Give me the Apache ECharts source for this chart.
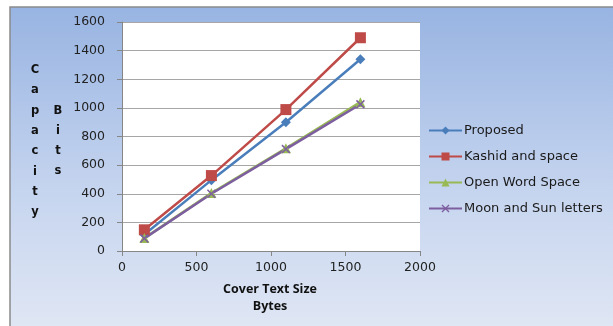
<!DOCTYPE html>
<html><head><meta charset="utf-8">
<script src="https://cdn.jsdelivr.net/npm/echarts@6/dist/echarts.min.js"></script>
<style>
html,body{margin:0;padding:0;background:#fff;}
#chart{width:613px;height:326px;}
</style></head>
<body>
<div id="chart"></div>
<script>
const xValues = [150, 600, 1100, 1600];
const proposed = [115, 495, 900, 1340];
const kashid = [148, 527, 988, 1490];
const openWord = [90, 405, 718, 1040];
const moonSun = [88, 400, 712, 1025];
const seriesNames = ['Proposed', 'Kashid and space', 'Open Word Space', 'Moon and Sun letters'];
const xTicks = {min: 0, max: 2000, interval: 500};
const yTicks = {min: 0, max: 1600, interval: 200};

const plot = {left: 122, top: 22, width: 298, height: 229};
const box = {x: 10, y: 7, w: 640, h: 340};
const chart = echarts.init(document.getElementById('chart'), null, {renderer: 'canvas'});
const pair = arr => xValues.map((x, i) => [x, arr[i]]);
const xMark = 'path://M0,1.2 L1.2,0 L5,3.8 L8.8,0 L10,1.2 L6.2,5 L10,8.8 L8.8,10 L5,6.2 L1.2,10 L0,8.8 L3.8,5 Z';
const font = '"DejaVu Sans", sans-serif';
const titleFont = '"Open Sans", sans-serif';
const grad = () => ({type: 'linear', global: true, x: 0, y: box.y, x2: 0, y2: box.y + box.h, colorStops: [
  {offset: 0, color: '#98b4e2'}, {offset: 0.55, color: '#c6d5ef'}, {offset: 1, color: '#e3e9f5'}]});
const pr = plot.left + plot.width, pb = plot.top + plot.height;
const strips = [
  [box.x, box.y, box.w, plot.top - box.y],
  [box.x, pb, box.w, box.y + box.h - pb],
  [box.x, plot.top, plot.left - box.x, plot.height],
  [pr, plot.top, box.x + box.w - pr, plot.height]
].map(s => ({type: 'rect', silent: true, shape: {x: s[0], y: s[1], width: s[2], height: s[3]}, style: {fill: grad(), stroke: null}}));
const mk = (name, data, color, symbol, size) => ({
  name, type: 'line', data: pair(data), symbol, symbolSize: size, z: 6,
  lineStyle: {color, width: 2.5}, itemStyle: {color}, color,
  emphasis: {disabled: true}
});
chart.setOption({
  animation: false,
  backgroundColor: '#ffffff',
  textStyle: {fontFamily: font},
  grid: {left: plot.left, top: plot.top, width: plot.width, height: plot.height, show: false},
  legend: {
    orient: 'vertical', left: 423, top: 119, itemGap: 13, itemWidth: 33, itemHeight: 10, z: 6,
    textStyle: {fontFamily: font, fontSize: 13, color: '#1a1a1a', padding: [0, 0, 0, -3]},
    data: seriesNames
  },
  xAxis: {
    type: 'value', z: 4, min: xTicks.min, max: xTicks.max, interval: xTicks.interval,
    axisLine: {show: true, lineStyle: {color: '#868686', width: 1}},
    axisTick: {show: true, length: 5, lineStyle: {color: '#868686'}},
    axisLabel: {fontFamily: font, fontSize: 12.5, color: '#222', margin: 10, formatter: v => String(v)},
    splitLine: {show: false}
  },
  yAxis: {
    type: 'value', z: 4, min: yTicks.min, max: yTicks.max, interval: yTicks.interval,
    axisLine: {show: true, lineStyle: {color: '#868686', width: 1}},
    axisTick: {show: true, length: 5, lineStyle: {color: '#868686'}},
    axisLabel: {fontFamily: font, fontSize: 12.5, color: '#222', margin: 17, formatter: v => String(v)},
    splitLine: {show: true, lineStyle: {color: '#a6a6a6', width: 1}}
  },
  graphic: strips.concat([
    {type: 'rect', silent: true, shape: {x: box.x, y: box.y, width: box.w, height: box.h}, style: {fill: null, stroke: '#8a8a8a', lineWidth: 1.5}},
    {type: 'text', x: 35, y: 60, style: {text: 'C\na\np\na\nc\ni\nt\ny', fontFamily: font, fontWeight: 'bold', fontSize: 11.5, lineHeight: 20.3, fill: '#111', align: 'center'}},
    {type: 'text', x: 58, y: 101, style: {text: 'B\ni\nt\ns', fontFamily: font, fontWeight: 'bold', fontSize: 11.5, lineHeight: 20, fill: '#111', align: 'center'}},
    {type: 'text', x: 270, y: 281, style: {text: 'Cover Text Size\nBytes', fontFamily: titleFont, fontWeight: 'bold', fontSize: 12.5, lineHeight: 17, fill: '#111', align: 'center'}}
  ]),
  series: [
    mk(seriesNames[0], proposed, '#4a7ebb', 'diamond', 10),
    mk(seriesNames[1], kashid, '#be4b48', 'rect', 11),
    mk(seriesNames[2], openWord, '#98b954', 'triangle', 10),
    mk(seriesNames[3], moonSun, '#7d5fa0', xMark, 9)
  ]
});
</script>
</body></html>
